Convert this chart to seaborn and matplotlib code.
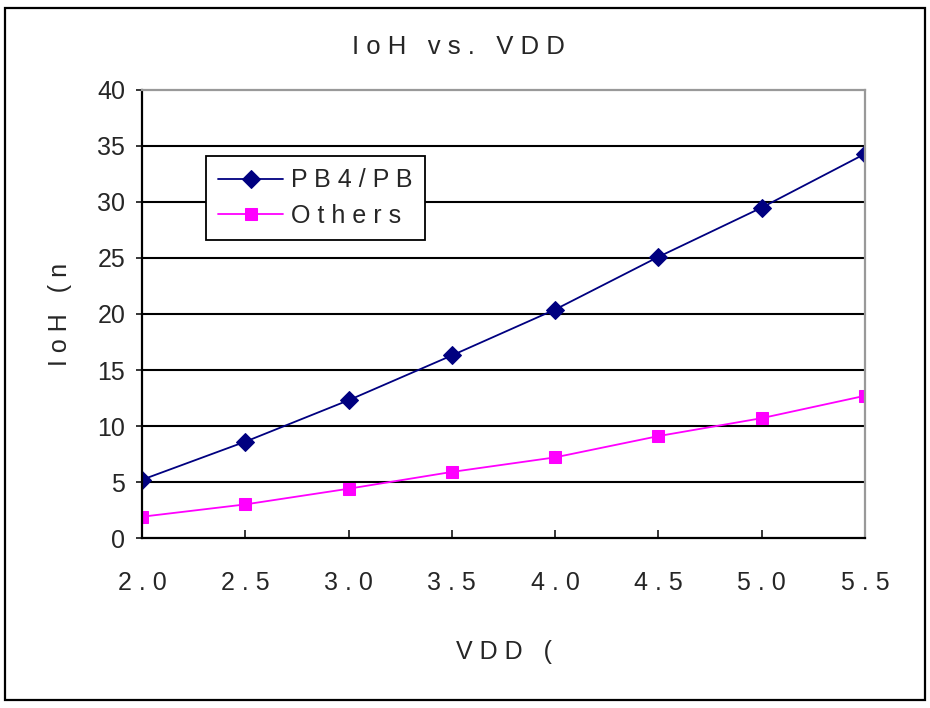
import matplotlib
matplotlib.use("Agg")
import matplotlib.pyplot as plt
import seaborn as sns
from matplotlib.patches import Rectangle

# data
vdd = [2.0, 2.5, 3.0, 3.5, 4.0, 4.5, 5.0, 5.5]
ioh_pb4 = [5.2, 8.6, 12.3, 16.3, 20.4, 25.1, 29.5, 34.3]
ioh_others = [1.9, 3.0, 4.4, 5.9, 7.2, 9.1, 10.7, 12.7]
x_ticks = [2.0, 2.5, 3.0, 3.5, 4.0, 4.5, 5.0, 5.5]
x_labels = ["2 . 0", "2 . 5", "3 . 0", "3 . 5", "4 . 0", "4 . 5", "5 . 0", "5 . 5"]
y_ticks = [0, 5, 10, 15, 20, 25, 30, 35, 40]

sns.set_style("white")
plt.rcParams['font.family'] = ['Liberation Sans', 'DejaVu Sans']

fig = plt.figure(figsize=(9.3, 7.08), dpi=100)
ax = fig.add_axes([0.1527, 0.2401, 0.7774, 0.6328])

# outer chart border
fig.patches.append(Rectangle((0.0054, 0.0113), 0.9892, 0.9774, transform=fig.transFigure,
                             fill=False, edgecolor='black', linewidth=1.6))

sns.lineplot(x=vdd, y=ioh_pb4, ax=ax, color='#000080', marker='D', markersize=9.5,
             markeredgecolor='#000080', linewidth=1.3, label='P B 4 / P B')
sns.lineplot(x=vdd, y=ioh_others, ax=ax, color='#ff00ff', marker='s', markersize=9,
             markeredgecolor='#ff00ff', linewidth=1.3, label='O t h e r s')

ax.set_xlim(2.0, 5.5)
ax.set_ylim(0, 40)
ax.set_xticks(x_ticks)
ax.set_xticklabels(x_labels, fontsize=18)
ax.set_yticks(y_ticks)
ax.set_yticklabels([str(v) for v in y_ticks], fontsize=18)

for y in y_ticks[1:-1]:
    ax.axhline(y, color='black', linewidth=1.5, zorder=0)

ax.spines['left'].set_color('black')
ax.spines['left'].set_linewidth(1.6)
ax.spines['bottom'].set_color('black')
ax.spines['bottom'].set_linewidth(1.6)
ax.spines['top'].set_color('#999999')
ax.spines['top'].set_linewidth(1.6)
ax.spines['right'].set_color('#999999')
ax.spines['right'].set_linewidth(1.6)

ax.tick_params(axis='x', direction='in', length=6, width=1.3, pad=24, bottom=True)
ax.tick_params(axis='y', direction='out', length=4, width=1.3, pad=8, left=True)

# title sits left of the plot centre in the original
fig.text(458 / 930, 1 - 47 / 708, "I o H   v s .   V D D", fontsize=18.5,
         ha='center', va='center')
ax.set_xlabel("V D D   (", fontsize=18, labelpad=32)
ax.set_ylabel("I o H   ( n", fontsize=18, labelpad=10)
ax.yaxis.set_label_coords(-0.097, 0.5)

leg = ax.legend(loc='upper left', bbox_to_anchor=(0.0885, 0.853), borderaxespad=0,
                fontsize=18, frameon=True, fancybox=False, framealpha=1, edgecolor='black',
                handlelength=2.6, handletextpad=0.3, borderpad=0.5, labelspacing=0.45)
leg.get_frame().set_linewidth(1.3)

fig.savefig("out.png", dpi=100)
